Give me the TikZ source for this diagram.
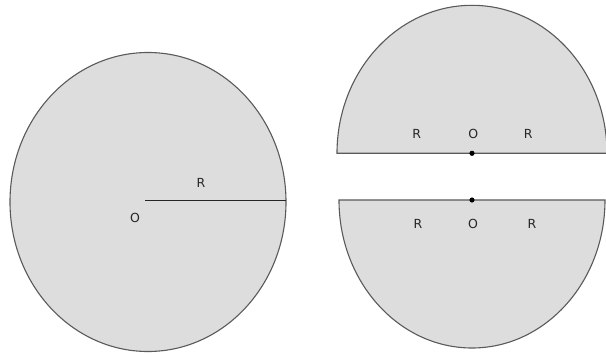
\documentclass[tikz,border=0pt]{standalone}
\usepackage{fontspec}
\setmainfont{DejaVu Sans}
\definecolor{shapefill}{RGB}{221,221,221}
\definecolor{shapeedge}{RGB}{90,90,90}
\begin{document}
\begin{tikzpicture}[x=1pt,y=1pt,
  piece/.style={fill=shapefill,draw=shapeedge,line width=1.1pt},
  lbl/.style={font=\fontsize{12.5}{14}\selectfont,text=black!85,inner sep=0pt},
  radius line/.style={draw=black!85,line width=1.2pt},
  centre dot/.style={fill=black,draw=none}]
\useasboundingbox (0,0) rectangle (606,354);
% left full ellipse
\path[piece] (148,152) ellipse[x radius=138,y radius=149.5];
\coordinate (O1) at (145,153.3);
\coordinate (E1) at (286,153.3);
\draw[radius line] (O1) -- (E1);
\node[lbl] (R1) at (201,170.7) {R};
\node[lbl] (L1) at (135,136.3) {O};
% upper half
\coordinate (O2) at (472,200.7);
\path[piece] (337,200.7) arc[start angle=180,end angle=0,x radius=135,y radius=148] -- cycle;
\fill[centre dot] (O2) circle[radius=2.6];
\node[lbl] (R2a) at (416.7,220) {R};
\node[lbl] (L2) at (473.3,220) {O};
\node[lbl] (R2b) at (528.3,220) {R};
% lower half
\coordinate (O3) at (472,154);
\path[piece] (339,154) arc[start angle=180,end angle=360,x radius=133,y radius=148] -- cycle;
\fill[centre dot] (O3) circle[radius=2.6];
\node[lbl] (R3a) at (418,130) {R};
\node[lbl] (L3) at (473,130) {O};
\node[lbl] (R3b) at (532,130) {R};
\end{tikzpicture}
\end{document}
